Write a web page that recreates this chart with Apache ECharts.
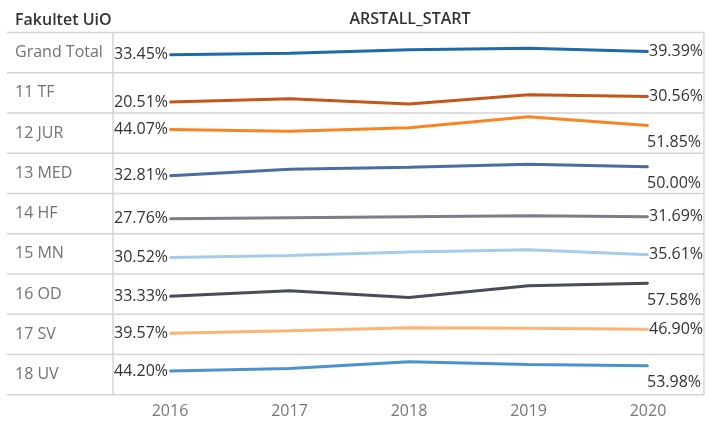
<!DOCTYPE html>
<html>
<head>
<meta charset="utf-8">
<script src="https://cdn.jsdelivr.net/npm/echarts@6/dist/echarts.min.js"></script>
<style>
html,body{margin:0;padding:0;background:#fff;}
#chart{width:709px;height:421px;}
</style>
</head>
<body>
<div id="chart"></div>
<script>
// ---- data ----
const years = ['2016', '2017', '2018', '2019', '2020'];
const faculties = ['Grand Total', '11 TF', '12 JUR', '13 MED', '14 HF', '15 MN', '16 OD', '17 SV', '18 UV'];
const grandTotal = [33.45, 36.3, 42.8, 45.6, 39.39];
const tf  = [20.51, 26.7, 16.8, 34.2, 30.56];
const jur = [44.07, 40.9, 47.7, 68.0, 51.85];
const med = [32.81, 45.0, 48.8, 54.4, 50.00];
const hf  = [27.76, 29.8, 31.7, 33.6, 31.69];
const mn  = [30.52, 34.4, 41.1, 44.9, 35.61];
const od  = [33.33, 43.6, 31.0, 52.9, 57.58];
const sv  = [39.57, 44.1, 49.7, 49.0, 46.90];
const uv  = [44.20, 49.0, 61.5, 56.4, 53.98];
const measureTitle = 'ARSTALL_START';
const dimTitle = 'Fakultet UiO';

// ---- styles ----
const seriesValues = [grandTotal, tf, jur, med, hf, mn, od, sv, uv];
const colors = ['#1f6aa8', '#c4561a', '#f98420', '#4a6ea3', '#7a7e85', '#a4cbeb', '#474c57', '#fdb372', '#4b93cf'];
const endBelow = [false, false, true, true, false, false, true, false, true];

const FONT = '"Open Sans", sans-serif';
const tableLeft = 7, tableRight = 704, colX = 113;
const top0 = 32.5, bottom0 = 394.7;
const rowH = (bottom0 - top0) / faculties.length;
const plotLeft = 170, plotRight = 61;
const lineCol = '#d4d4d4';

const grids = [], xAxes = [], yAxes = [], series = [], graphics = [];

faculties.forEach((name, i) => {
  const t = top0 + i * rowH;
  grids.push({ left: plotLeft, right: plotRight, top: t, height: rowH, containLabel: false });
  const last = i === faculties.length - 1;
  xAxes.push({
    type: 'category', gridIndex: i, data: years, boundaryGap: false,
    axisLine: { show: false }, axisTick: { show: false }, splitLine: { show: false },
    axisLabel: { show: last, color: '#777', fontFamily: FONT, fontSize: 16, margin: 9 }
  });
  yAxes.push({
    type: 'value', gridIndex: i, min: 0, max: 75,
    axisLine: { show: false }, axisTick: { show: false }, splitLine: { show: false }, axisLabel: { show: false }
  });
  const vals = seriesValues[i];
  const n = vals.length;
  series.push({
    type: 'line', xAxisIndex: i, yAxisIndex: i, name: name,
    symbol: 'circle', symbolSize: 2, showSymbol: true, showAllSymbol: true,
    lineStyle: { color: colors[i], width: 3 },
    itemStyle: { color: colors[i] },
    emphasis: { disabled: true },
    z: 5,
    data: vals.map((v, j) => {
      let label = { show: false };
      const base = { show: true, color: '#333', fontFamily: FONT, fontSize: 16,
                     formatter: (p) => p.value.toFixed(2) + '%' };
      if (j === 0) label = Object.assign({}, base, { position: 'left', distance: 1 });
      else if (j === n - 1) {
        label = endBelow[i]
          ? Object.assign({}, base, { position: 'right', distance: -2, offset: [0, 17] })
          : Object.assign({}, base, { position: 'right', distance: 0 });
      }
      return { value: v, label: label };
    })
  });
  // row label
  graphics.push({
    type: 'text', x: 15, y: t + rowH / 2,
    style: { text: name, fill: '#727272', font: '16px ' + FONT, verticalAlign: 'middle' }
  });
  // separator line (top of row)
  graphics.push({
    type: 'line', shape: { x1: tableLeft, y1: t, x2: tableRight, y2: t },
    style: { stroke: lineCol, lineWidth: 1.5 }, silent: true
  });
});
// bottom border
graphics.push({ type: 'line', shape: { x1: tableLeft, y1: bottom0, x2: tableRight, y2: bottom0 },
  style: { stroke: lineCol, lineWidth: 1.5 }, silent: true });
// vertical lines
graphics.push({ type: 'line', shape: { x1: colX, y1: top0, x2: colX, y2: bottom0 },
  style: { stroke: lineCol, lineWidth: 1.5 }, silent: true });
graphics.push({ type: 'line', shape: { x1: tableRight, y1: top0, x2: tableRight, y2: bottom0 },
  style: { stroke: lineCol, lineWidth: 1.5 }, silent: true });
// headers
graphics.push({ type: 'text', x: 15, y: 20.5,
  style: { text: dimTitle, fill: '#333', font: '600 16px ' + FONT, verticalAlign: 'middle' } });
graphics.push({ type: 'text', x: 410, y: 19,
  style: { text: measureTitle, fill: '#333', font: '600 16px ' + FONT, align: 'center', verticalAlign: 'middle' } });

const chart = echarts.init(document.getElementById('chart'), null, { renderer: 'canvas' });
chart.setOption({
  animation: false,
  backgroundColor: '#fff',
  grid: grids, xAxis: xAxes, yAxis: yAxes, series: series,
  graphic: graphics
});
</script>
</body>
</html>
